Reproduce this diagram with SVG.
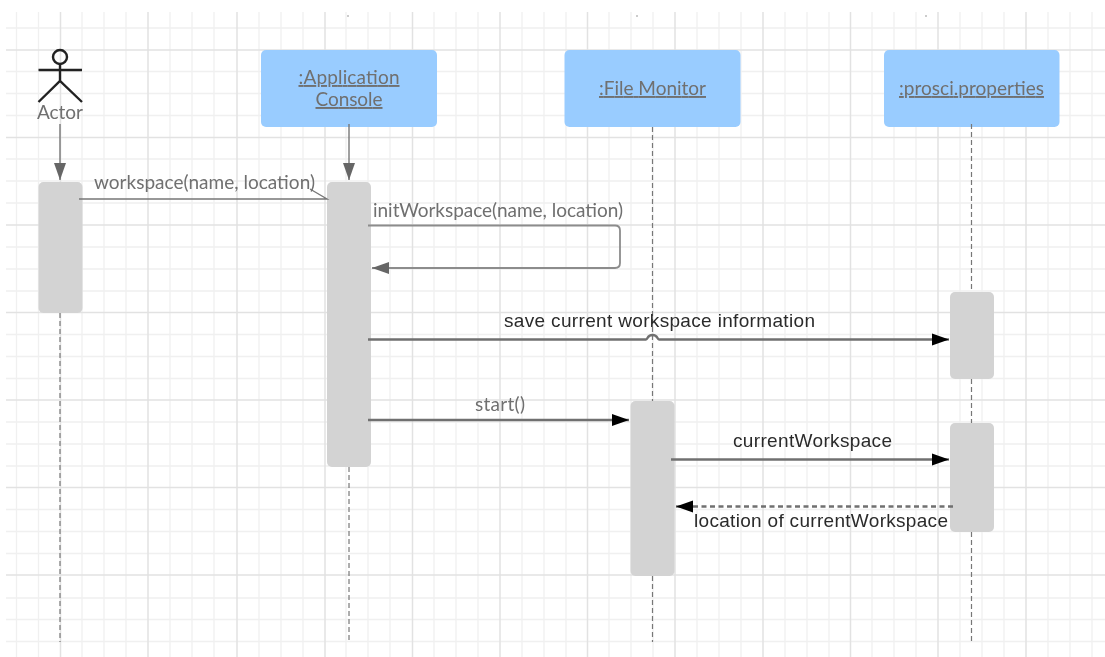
<svg xmlns="http://www.w3.org/2000/svg" width="1105" height="657" viewBox="0 0 1105 657">
<style>
.mi{stroke:#f0f0f0;stroke-width:1.3;fill:none}
.ma{stroke:#e2e2e2;stroke-width:1.5;fill:none}
.box{fill:#99ccff}
.act{fill:#d3d3d3}
.t{font-family:Lato,"Open Sans","Noto Sans",sans-serif;font-size:19px;fill:#6f6f6f}
.u{text-decoration:underline;text-anchor:middle}
.b{font-family:"Liberation Sans",Arial,sans-serif;font-size:19px;fill:#2b2b2b}
.life{stroke:#777;stroke-width:1.2;stroke-dasharray:5 3;fill:none}
.line{stroke:#777;stroke-width:1.4;fill:none}
.soft{stroke:#8c8c8c;stroke-width:1.8;fill:none}
.thick{stroke:#707070;stroke-width:2.4;fill:none}
.fig{stroke:#222;stroke-width:2.4;fill:none}
</style>
<defs>
<marker id="ga" markerUnits="userSpaceOnUse" markerWidth="18" markerHeight="14" refX="17" refY="7" orient="auto"><path d="M0 1L17 7L0 13Z" fill="#666"/></marker>
<marker id="ka" markerUnits="userSpaceOnUse" markerWidth="18" markerHeight="14" refX="17" refY="7" orient="auto"><path d="M0 1L17 7L0 13Z" fill="#000"/></marker>
<filter id="soft" x="0" y="0" width="100%" height="100%"><feGaussianBlur stdDeviation="0.5"/></filter>
</defs>
<rect width="1105" height="657" fill="#fff"/>
<g filter="url(#soft)">
<g id="grid">
<path class="mi" d="M16.500 12V657M38.500 12V657M82 12V657M104 12V657M126 12V657M170 12V657M192 12V657M214 12V657M259 12V657M281 12V657M303 12V657M346 12V657M368 12V657M390 12V657M434 12V657M456 12V657M478 12V657M522 12V657M544 12V657M566 12V657M609 12V657M631 12V657M653 12V657M697 12V657M719 12V657M741 12V657M785 12V657M807 12V657M829 12V657M872 12V657M894 12V657M916 12V657M960 12V657M982 12V657M1004 12V657M1048 12V657M1070 12V657M1092 12V657"/>
<path class="mi" d="M6 28H1105M6 71.500H1105M6 93.500H1105M6 115.500H1105M6 159H1105M6 181H1105M6 203H1105M6 247H1105M6 269H1105M6 291H1105M6 334.500H1105M6 356.500H1105M6 378.500H1105M6 422H1105M6 444H1105M6 466H1105M6 509.500H1105M6 531.500H1105M6 553.500H1105M6 598H1105M6 619.500H1105M6 641.500H1105"/>
<path class="ma" d="M60.500 12V657M148 12V657M237 12V657M325 12V657M412.500 12V657M500 12V657M587.500 12V657M675 12V657M763 12V657M850.500 12V657M938 12V657M1026 12V657"/>
<path class="ma" d="M6 50H1105M6 137.500H1105M6 225H1105M6 312.500H1105M6 400H1105M6 487.500H1105M6 575H1105"/>
<path d="M348 15.500v1M637 15.500v1M926 15.500v1" stroke="#777" stroke-width="1.500"/>
</g>
<g id="actor">
<circle class="fig" cx="60" cy="57" r="7"/>
<path class="fig" d="M38.500 70H82M60 64V81M38.500 102L60 81L82 102"/>
<text class="t" x="60" y="119" text-anchor="middle" textLength="46">Actor</text>
</g>
<g id="app-console">
<rect class="box" x="261" y="50" width="176" height="77" rx="5"/>
<text class="t u" x="349" y="84" textLength="101">:Application</text>
<text class="t u" x="349" y="106" textLength="67">Console</text>
</g>
<g id="file-monitor">
<rect class="box" x="564.500" y="50" width="176" height="77" rx="5"/>
<text class="t u" x="652.500" y="95" textLength="107">:File Monitor</text>
</g>
<g id="prosci-properties">
<rect class="box" x="884" y="50" width="175.500" height="77" rx="5"/>
<text class="t u" x="971.500" y="95" textLength="145">:prosci.properties</text>
</g>
<g id="actor-activation"><rect class="act" x="38.500" y="182" width="44" height="131" rx="5"/></g>
<g id="app-activation"><rect class="act" x="327" y="182" width="44" height="285" rx="5"/></g>
<g id="monitor-activation"><rect class="act" x="630.500" y="401" width="44" height="175" rx="5"/></g>
<g id="props-activation-1"><rect class="act" x="950" y="292" width="44" height="87" rx="5"/></g>
<g id="props-activation-2"><rect class="act" x="950" y="423" width="44" height="109" rx="5"/></g>
<g id="connectors">
<path class="life" d="M60 313V642M349 467V642M652.500 127V401M652.500 576V642M971.500 124V292M971.500 379V423M971.500 532V642"/>
<path class="line" d="M60 124V180" marker-end="url(#ga)"/>
<path class="line" d="M349 124V180" marker-end="url(#ga)"/>
<path class="line" d="M79 199H327L310 189"/>
<path class="soft" d="M368 225.500H615Q620 225.500 620 230.500V263Q620 268 615 268H372" marker-end="url(#ga)"/>
<path class="thick" d="M368 339.500H646C648 339.500 647 335 652.500 335C658 335 657 339.500 659 339.500H949" marker-end="url(#ka)"/>
<path class="thick" d="M368 420H629" marker-end="url(#ka)"/>
<path class="thick" d="M671 459.500H949" marker-end="url(#ka)"/>
<path class="thick" stroke-dasharray="5 3.500" d="M953 506.500H676" marker-end="url(#ka)"/>
</g>
<g id="labels">
<text class="t" x="94" y="189" textLength="221">workspace(name, location)</text>
<text class="t" x="373" y="217" textLength="250">initWorkspace(name, location)</text>
<text class="b" x="504" y="327" textLength="311">save current workspace information</text>
<text class="t" x="475" y="411" textLength="50">start()</text>
<text class="b" x="733" y="447" textLength="159">currentWorkspace</text>
<text class="b" x="694" y="527" textLength="254">location of currentWorkspace</text>
</g>
</g>
</svg>
